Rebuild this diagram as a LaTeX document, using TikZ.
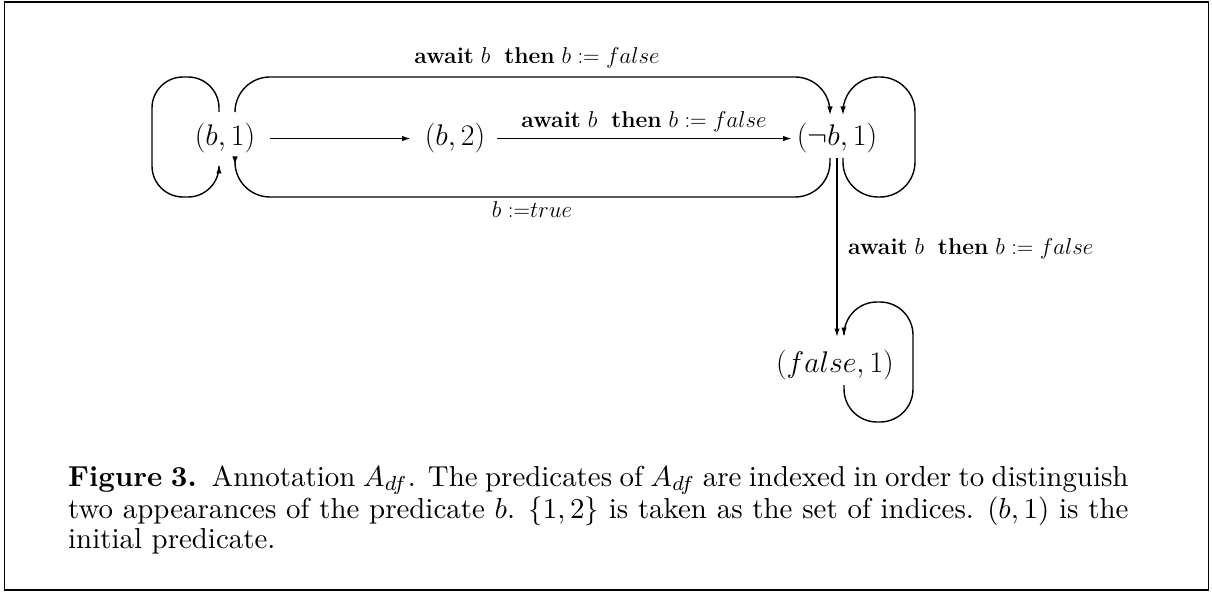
\RequirePackage{fix-cm}
\documentclass[tikz,border=0pt]{standalone}
\usepackage{graphicx}
\usetikzlibrary{arrows.meta}
\begin{document}
\begin{tikzpicture}[x=1bp,y=-1bp,
  edge/.style={line width=1.4bp,-{Latex[length=8.5bp,width=5.5bp]}},
  state/.style={font=\fontsize{30}{36}\selectfont,inner sep=0pt,anchor=base},
  lbl/.style={font=\fontsize{23}{27}\selectfont,inner sep=0pt},
  captext/.style={inner sep=0pt,anchor=base west}]
\useasboundingbox (0,0) rectangle (1212,593);
\draw[line width=1.6bp] (4.5,2) rectangle (1208.5,590);
% states
\node[state] (b1) at (225,146) {$(b,1)$};
\node[state] (b2) at (455,146) {$(b,2)$};
\node[state] (nb1) at (837,146) {$(\neg b,1)$};
\node[state] (f1) at (835,372) {$(false,1)$};
% anchor points
\coordinate (b1a) at (219,112);
\coordinate (b1b) at (219,165);
\coordinate (b1c) at (235,112);
\coordinate (b1d) at (235,165);
\coordinate (nb1a) at (830,115);
\coordinate (nb1b) at (843,115);
\coordinate (nb1c) at (830,158);
\coordinate (nb1d) at (843,158);
\coordinate (nb1e) at (837,158);
\coordinate (f1a) at (837,337);
\coordinate (f1b) at (844,385);
\coordinate (f1c) at (844,336);
% straight edges
\draw[edge,shorten <=15bp,shorten >=14bp] (b1) -- (b2);
\draw[edge,shorten <=12bp,shorten >=5bp] (b2) -- (nb1);
\draw[edge] (nb1e) -- (f1a);
% loops
\draw[edge,rounded corners=31bp] (b1a) |- (152,77) |- (219,197) -- (b1b);
\draw[edge,rounded corners=35bp] (b1c) |- (830,77) -- (nb1a);
\draw[edge,rounded corners=35bp] (nb1c) |- (235,197) -- (b1d);
\draw[edge,rounded corners=35bp] (nb1d) |- (915,197) |- (843,77) -- (nb1b);
\draw[edge,rounded corners=33bp] (f1b) |- (913,422) |- (844,302) -- (f1c);
% labels
\node[lbl,anchor=base] (l1) at (537,64) {\textbf{await} $b$\ \ \textbf{then} $b := false$};
\node[lbl,anchor=base] (l2) at (644,128) {\textbf{await} $b$\ \ \textbf{then} $b := false$};
\node[lbl,anchor=base west] (l3) at (848,255) {\textbf{await} $b$\ \ \textbf{then} $b := false$};
\node[lbl,anchor=base] (l4) at (532,218) {$b\;{:=}true$};
% caption
\node[captext] (caption) at (68,486) {\scalebox{2.9}{\parbox[t]{367pt}{\fontsize{10}{9.31}\selectfont
\textbf{Figure 3.}\ \ Annotation $A_{df}$. The predicates of $A_{df}$ are indexed in order to distinguish\linebreak two appearances of the predicate $b$. $\{1,2\}$ is taken as the set of indices. $(b,1)$ is the\linebreak initial predicate.}}};
\end{tikzpicture}
\end{document}
